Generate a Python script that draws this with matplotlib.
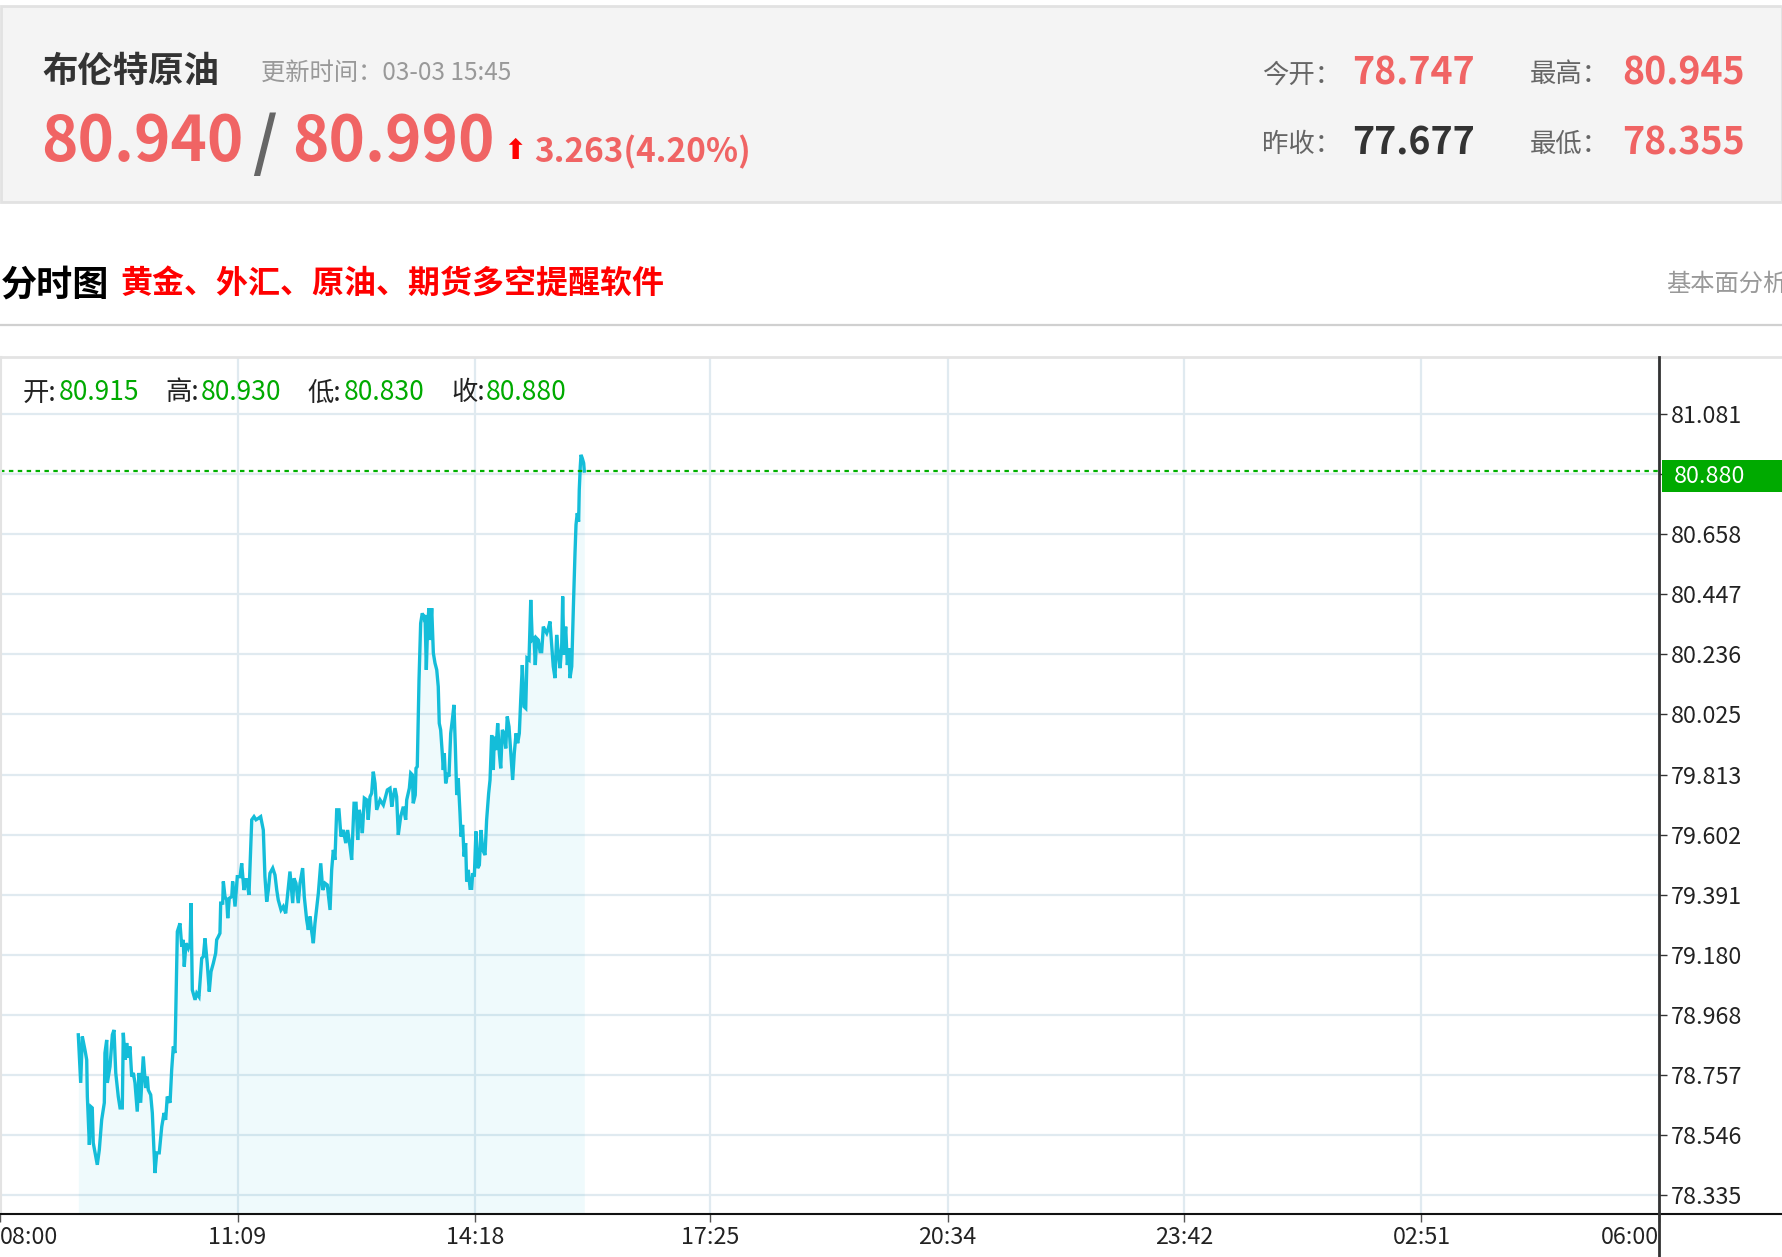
import matplotlib
matplotlib.use('Agg')
import matplotlib.pyplot as plt
from matplotlib.patches import Rectangle
from matplotlib.lines import Line2D
import matplotlib.transforms as mtransforms

plt.rcParams['font.family'] = ['Noto Sans CJK SC', 'DejaVu Sans']

# ---------------- data ----------------
instrument = '布伦特原油'
update_label = '更新时间：03-03 15:45'
bid = '80.940'
ask = '80.990'
change = '3.263(4.20%)'
today_open = '78.747'
prev_close = '77.677'
day_high = '80.945'
day_low = '78.355'
section_title = '分时图'
slogan = '黄金、外汇、原油、期货多空提醒软件'
right_link = '基本面分析'
bar_labels = ['开', '高', '低', '收']
bar_values = ['80.915', '80.930', '80.830', '80.880']
last_price = 80.880

y_ticks = [81.081, 80.869, 80.658, 80.447, 80.236, 80.025, 79.813,
           79.602, 79.391, 79.180, 78.968, 78.757, 78.546, 78.335]
# the 80.869 label is hidden behind the last-price tag in the reference
y_tick_labels = ['81.081', '', '80.658', '80.447', '80.236', '80.025', '79.813',
                 '79.602', '79.391', '79.180', '78.968', '78.757', '78.546', '78.335']
x_ticks = [0, 189, 378, 565, 754, 942, 1131, 1320]   # minutes after 08:00
x_tick_labels = ['08:00', '11:09', '14:18', '17:25', '20:34', '23:42', '02:51', '06:00']

# minutes after 08:00
times = [62.3, 64.2, 65.5, 67.6, 69.0, 69.5, 71.1, 72.4, 73.4, 74.2, 77.4, 79.0, 80.9, 83.0, 83.5,
         84.9, 85.4, 87.5, 89.4, 90.7, 92.1, 94.1, 95.5, 97.3, 98.1, 99.5, 100.8, 102.1, 103.4,
         104.8, 106.1, 107.4, 109.2, 110.6, 111.9, 114.0, 115.9, 117.2, 118.0, 119.9, 121.2,
         123.3, 124.7, 126.7, 128.7, 130.5, 131.8, 133.1, 135.3, 136.6, 137.9, 139.2, 139.8,
         141.1, 143.2, 144.6, 145.8, 146.6, 148.0, 149.8, 151.2, 152.0, 153.0, 155.2, 156.5,
         158.3, 160.5, 161.8, 163.1, 164.9, 166.5, 167.9, 169.7, 171.6, 172.4, 173.7, 175.0,
         175.6, 177.2, 177.7, 179.0, 180.4, 181.2, 182.4, 184.4, 185.1, 187.0, 188.8, 191.0,
         192.3, 194.1, 195.7, 197.1, 198.1, 198.9, 200.3, 202.1, 203.7, 205.5, 207.4, 209.5,
         210.8, 212.2, 213.5, 214.8, 217.0, 218.8, 220.2, 221.4, 223.6, 225.4, 227.3, 228.9,
         230.7, 232.9, 233.9, 235.5, 237.3, 238.7, 240.8, 242.1, 244.0, 245.3, 246.7, 248.0,
         249.3, 250.6, 253.3, 255.2, 256.8, 258.6, 260.4, 262.6, 263.9, 265.2, 266.5, 267.9,
         269.7, 271.3, 273.2, 275.1, 276.6, 278.5, 279.8, 281.7, 283.3, 284.6, 285.9, 287.2,
         288.3, 289.9, 291.8, 293.0, 294.4, 295.7, 297.0, 298.4, 299.7, 302.4, 305.0, 308.2,
         310.3, 311.7, 312.9, 314.3, 315.6, 316.9, 318.8, 320.9, 322.8, 323.6, 325.7, 326.8,
         328.1, 328.8, 330.4, 331.0, 332.0, 333.4, 334.7, 336.0, 337.4, 338.2, 339.2, 340.3,
         341.3, 342.1, 343.5, 344.8, 346.1, 347.5, 348.7, 349.5, 350.6, 351.9, 352.7, 353.5,
         354.6, 356.2, 357.2, 358.6, 359.9, 361.2, 362.3, 363.4, 364.6, 366.0, 366.8, 368.1,
         369.2, 370.5, 371.3, 372.6, 374.0, 375.3, 376.1, 377.4, 378.7, 380.1, 381.4, 382.7,
         384.1, 385.9, 387.2, 388.8, 389.9, 391.2, 392.5, 393.3, 394.6, 396.0, 397.3, 398.4,
         399.7, 401.0, 402.4, 403.6, 405.0, 406.6, 407.9, 409.2, 410.6, 411.9, 413.2, 414.3,
         415.6, 416.9, 418.3, 419.3, 420.9, 422.3, 423.5, 424.9, 425.9, 427.0, 428.3, 429.7,
         431.0, 432.3, 433.6, 435.0, 436.3, 437.6, 439.0, 440.2, 441.6, 442.9, 444.2, 445.6,
         446.9, 447.7, 448.7, 450.1, 451.4, 452.7, 453.5, 454.9, 456.2, 457.5, 458.3, 459.3,
         460.4, 460.9, 461.7, 462.3, 463.3, 464.4, 464.9]
prices = [78.898, 78.729, 78.892, 78.845, 78.810, 78.681, 78.511, 78.645, 78.641, 78.518, 78.441,
          78.493, 78.599, 78.659, 78.834, 78.880, 78.729, 78.786, 78.898, 78.915, 78.764, 78.681,
          78.641, 78.641, 78.905, 78.810, 78.869, 78.817, 78.857, 78.751, 78.764, 78.729, 78.628,
          78.764, 78.659, 78.822, 78.711, 78.751, 78.704, 78.687, 78.623, 78.412, 78.483, 78.483,
          78.575, 78.623, 78.599, 78.681, 78.659, 78.775, 78.857, 78.834, 78.962, 79.261, 79.290,
          79.208, 79.232, 79.138, 79.220, 79.202, 79.220, 79.361, 79.056, 79.021, 79.044, 79.032,
          79.167, 79.173, 79.237, 79.149, 79.050, 79.120, 79.149, 79.185, 79.232, 79.243, 79.255,
          79.361, 79.361, 79.437, 79.384, 79.372, 79.308, 79.378, 79.384, 79.437, 79.349, 79.454,
          79.454, 79.501, 79.407, 79.448, 79.419, 79.390, 79.489, 79.654, 79.665, 79.654, 79.659,
          79.665, 79.618, 79.454, 79.366, 79.407, 79.466, 79.484, 79.460, 79.407, 79.372, 79.337,
          79.349, 79.325, 79.396, 79.472, 79.361, 79.448, 79.431, 79.361, 79.431, 79.484, 79.384,
          79.302, 79.267, 79.314, 79.261, 79.220, 79.290, 79.396, 79.501, 79.407, 79.431, 79.425,
          79.337, 79.478, 79.548, 79.513, 79.689, 79.689, 79.595, 79.618, 79.572, 79.618, 79.560,
          79.513, 79.712, 79.712, 79.583, 79.689, 79.654, 79.607, 79.730, 79.724, 79.654, 79.735,
          79.747, 79.823, 79.782, 79.689, 79.724, 79.706, 79.759, 79.765, 79.700, 79.735, 79.765,
          79.735, 79.601, 79.665, 79.700, 79.654, 79.724, 79.765, 79.818, 79.812, 79.712, 79.741,
          79.835, 79.841, 80.146, 80.345, 80.380, 80.363, 80.374, 80.181, 80.345, 80.398, 80.286,
          80.398, 80.240, 80.205, 80.181, 80.122, 79.993, 79.970, 79.888, 79.829, 79.888, 79.782,
          79.818, 79.806, 79.958, 80.005, 80.058, 79.911, 79.741, 79.800, 79.677, 79.595, 79.636,
          79.525, 79.572, 79.437, 79.478, 79.413, 79.413, 79.466, 79.454, 79.613, 79.484, 79.495,
          79.618, 79.548, 79.530, 79.654, 79.747, 79.794, 79.952, 79.829, 79.946, 79.899, 79.993,
          79.888, 79.835, 79.970, 79.958, 79.905, 80.017, 79.981, 79.876, 79.794, 79.888, 79.958,
          79.923, 79.958, 80.075, 80.198, 80.052, 80.046, 80.222, 80.216, 80.427, 80.286, 80.292,
          80.198, 80.292, 80.286, 80.245, 80.245, 80.333, 80.321, 80.310, 80.327, 80.351, 80.263,
          80.193, 80.152, 80.304, 80.240, 80.187, 80.263, 80.439, 80.234, 80.333, 80.198, 80.257,
          80.152, 80.193, 80.400, 80.591, 80.691, 80.732, 80.702, 80.814, 80.896, 80.937, 80.925,
          80.908, 80.880]

# ---------------- figure ----------------
W, H = 1782, 1257
fig = plt.figure(figsize=(W / 100, H / 100), dpi=100)
fig.patch.set_facecolor('white')


def fx(px):
    return px / W


def fy(py):
    return 1 - py / H


SALMON = '#f06464'
GRAY6 = '#666666'
GRAY9 = '#999999'

# header box
fig.patches.append(Rectangle((fx(1), fy(202)), (W - 1) / W, 196 / H, transform=fig.transFigure,
                             facecolor='#f4f4f4', edgecolor='#e2e2e2', lw=2, zorder=0))

fig.text(fx(42), fy(71), instrument, fontsize=25.5, fontweight='bold', color='#333333', va='center')
fig.text(fx(261), fy(73), update_label, fontsize=17.5, color=GRAY9, va='center')

fig.text(fx(41), fy(143), bid, fontsize=44.5, fontweight='bold', color=SALMON, va='center')
fig.text(fx(252), fy(145), '/', fontsize=46, fontweight='bold', color=GRAY6, va='center')
fig.text(fx(292), fy(143), ask, fontsize=44.5, fontweight='bold', color=SALMON, va='center')
fig.text(fx(515), fy(151), '⬆', fontsize=20, color='#ff0000', va='center', ha='center',
         family='DejaVu Sans')
fig.text(fx(534), fy(152), change, fontsize=24, fontweight='bold', color=SALMON, va='center')

fig.text(fx(1262), fy(75), '今开：', fontsize=19, color=GRAY6, va='center')
fig.text(fx(1352), fy(73), today_open, fontsize=27, fontweight='bold', color=SALMON, va='center')
fig.text(fx(1530), fy(75), '最高：', fontsize=19, color=GRAY6, va='center')
fig.text(fx(1622), fy(73), day_high, fontsize=27, fontweight='bold', color=SALMON, va='center')
fig.text(fx(1262), fy(144), '昨收：', fontsize=19, color=GRAY6, va='center')
fig.text(fx(1352), fy(143), prev_close, fontsize=27, fontweight='bold', color='#333333', va='center')
fig.text(fx(1530), fy(144), '最低：', fontsize=19, color=GRAY6, va='center')
fig.text(fx(1622), fy(143), day_low, fontsize=27, fontweight='bold', color=SALMON, va='center')

# section title row
fig.text(fx(1), fy(285), section_title, fontsize=26, fontweight='bold', color='black', va='center')
fig.text(fx(120), fy(285), slogan, fontsize=23, fontweight='bold', color='#ff0000', va='center')
fig.text(fx(1666), fy(284), right_link, fontsize=17.5, color=GRAY9, va='center')
fig.lines.append(Line2D([0, 1], [fy(325), fy(325)], transform=fig.transFigure, color='#d0d0d0', lw=1.6))

# chart frame lines
fig.lines.append(Line2D([0, 1], [fy(357), fy(357)], transform=fig.transFigure, color='#e3e3e3', lw=2))
fig.lines.append(Line2D([fx(1), fx(1)], [fy(357), fy(1214)], transform=fig.transFigure, color='#e3e3e3', lw=1.5))
fig.lines.append(Line2D([0, 1], [fy(1214), fy(1214)], transform=fig.transFigure, color='#111111', lw=1.5, zorder=5))
fig.lines.append(Line2D([fx(1659), fx(1659)], [fy(357), 0], transform=fig.transFigure, color='#333333', lw=2, zorder=5))

# ---------------- chart axes ----------------
ax = fig.add_axes([0, fy(1214), fx(1659), (1214 - 357) / H])
ax.set_facecolor('none')
for s in ax.spines.values():
    s.set_visible(False)

ax.set_xlim(0, 1320)
ax.set_ylim(78.268, 81.281)

ax.set_yticks(y_ticks)
ax.set_yticklabels(y_tick_labels)
ax.set_xticks(x_ticks)
ax.set_xticklabels(x_tick_labels)
ax.yaxis.tick_right()
ax.tick_params(axis='y', direction='out', length=5.5, width=1, color='#333333',
               labelsize=16.8, labelcolor='#222222', pad=3)
ax.tick_params(axis='x', direction='out', length=6, width=1, color='#555555',
               labelsize=16.8, labelcolor='#222222', pad=2.5)
xl = ax.get_xticklabels()
xl[0].set_horizontalalignment('left')
xl[-1].set_horizontalalignment('right')

ax.grid(True, color='#e0eaf0', lw=1.6, zorder=0)
ax.set_axisbelow(True)

ax.fill_between(times, prices, 78.268, color='#1cbcd8', alpha=0.065, lw=0, zorder=1)
ax.plot(times, prices, color='#14bdd9', lw=2.4, zorder=3, solid_joinstyle='miter')

ax.axhline(last_price, color='#00b000', lw=1.6, ls=(0, (2, 2)), zorder=4)

# last-price tag on the y-axis
blend = mtransforms.blended_transform_factory(ax.transAxes, ax.transData)
ax.add_patch(Rectangle((1662 / 1659, last_price - 0.075), (W - 1662) / 1659, 0.114,
                       transform=blend, facecolor='#00aa00', edgecolor='none',
                       clip_on=False, zorder=10))
ax.text(1674 / 1659, last_price - 0.018, f'{last_price:.3f}', transform=blend, color='white',
        fontsize=16.8, va='center', ha='left', zorder=11, clip_on=False)

# OHLC readout
ohlc_x = [(23, 59), (165, 201), (307, 344), (451, 486)]
for (lx, vx), lab, val in zip(ohlc_x, bar_labels, bar_values):
    fig.text(fx(lx), fy(393), lab + ':', fontsize=19, color='#222222', va='center')
    fig.text(fx(vx), fy(393), val, fontsize=19, color='#00aa00', va='center')

fig.savefig('out.png', dpi=100)
